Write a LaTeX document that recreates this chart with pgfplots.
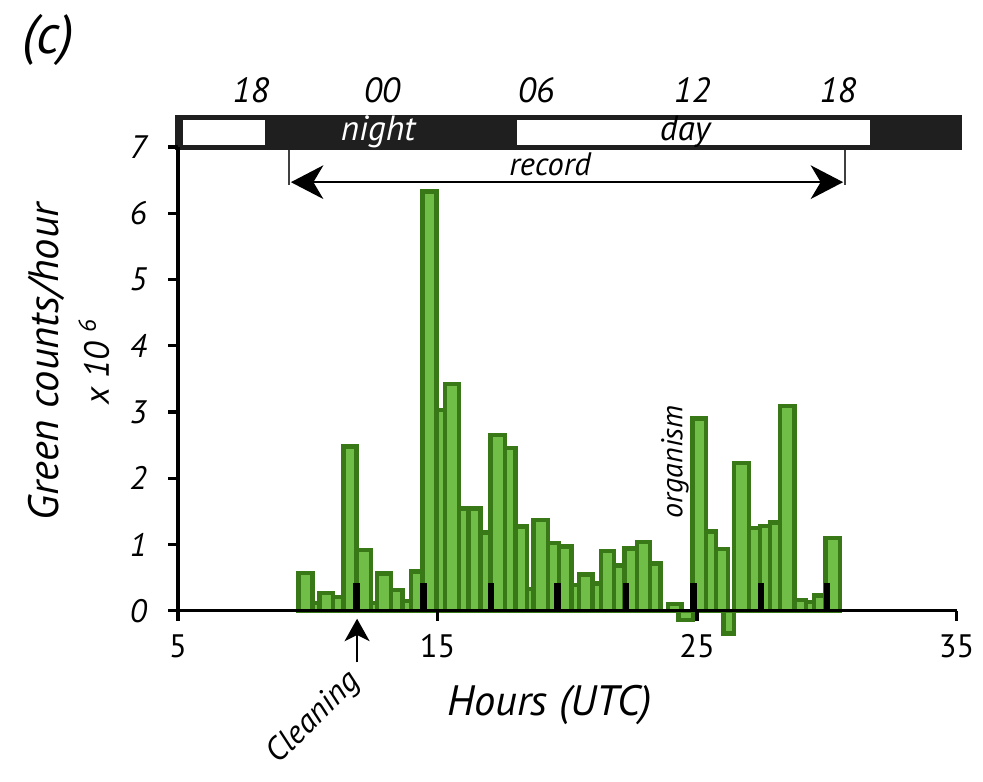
\documentclass[border=0pt]{standalone}
\usepackage{pgfplots}
\pgfplotsset{compat=1.18}
\usepackage{fontspec}
\setmainfont{PT Sans}
\usetikzlibrary{arrows.meta}
\definecolor{barfill}{RGB}{112,190,72}
\definecolor{baredge}{RGB}{56,120,22}
\begin{document}
\begin{tikzpicture}
\begin{axis}[
  scale only axis,
  width=311.6pt, height=185.6pt,
  xmin=5, xmax=35, ymin=0, ymax=7,
  clip=false,
  axis lines=left,
  axis line style={-, line width=1.3pt},
  axis on top,
  xtick={5,15,25,35},
  ytick={0,1,2,3,4,5,6,7},
  tick style={line width=1.3pt, black},
  major tick length=4pt,
  tick align=outside,
  /pgf/number format/assume math mode=true,
  xticklabel style={font=\fontsize{13}{13}\selectfont, yshift=-2pt},
  yticklabel style={font=\fontsize{13}{13}\selectfont\itshape, xshift=-5pt},
  xlabel={\itshape Hours (UTC)},
  xlabel style={font=\fontsize{17}{17}\selectfont, at={(axis description cs:0.477,-0.203)}, anchor=center},
  ylabel={Green counts/hour\\[1pt] \fontsize{14}{14}\selectfont x 10 \textsuperscript{6}},
  ylabel style={font=\fontsize{17}{19}\selectfont\itshape, align=center, at={(axis description cs:-0.140,0.537)}, anchor=center, rotate=0},
]
% main bars (left edges, last point = right edge)
\addplot[ybar interval, fill=barfill, draw=baredge, line width=1.8pt] coordinates {
(9.64,0.57) (10.18,0.12) (10.45,0.27) (10.98,0.21) (11.37,2.48) (11.88,0.92)
(12.43,0.12) (12.66,0.56) (13.20,0.31) (13.66,0.15) (13.97,0.59) (14.43,6.33)
(14.97,3.03) (15.28,3.42) (15.82,1.54) (16.20,1.54) (16.66,1.18) (17.05,2.65)
(17.60,2.46) (18.00,1.27) (18.44,0.33) (18.69,1.37) (19.25,1.02) (19.69,0.97)
(20.17,0.39) (20.45,0.55) (20.98,0.41) (21.30,0.90) (21.81,0.68) (22.20,0.94)
(22.68,1.04) (23.19,0.71) (23.60,0) (23.89,0.10) (24.41,0) (24.82,2.90)
(25.35,1.20) (25.73,0.93) (26.20,0) (26.43,2.23) (27.00,1.25) (27.43,1.28)
(27.81,1.33) (28.20,3.09) (28.75,0.16) (29.20,0.13) (29.51,0.23) (29.96,1.10)
(30.51,0)
};
% negative bars
\addplot[ybar interval, fill=barfill, draw=baredge, line width=1.8pt] coordinates {(24.28,-0.14) (24.84,0)};
\addplot[ybar interval, fill=barfill, draw=baredge, line width=1.8pt] coordinates {(26.02,-0.34) (26.43,0)};
% black markers
\addplot[ycomb, black, line width=2.6pt, no marks] coordinates {
(11.87,0.42) (14.46,0.42) (17.07,0.42) (19.62,0.42) (22.27,0.42) (24.86,0.42) (27.47,0.42) (30.0,0.42)
};
% day/night bar
\fill[black!88] (axis cs:4.9,6.95) rectangle (axis cs:35.2,7.48);
\fill[white] (axis cs:5.19,7.03) rectangle (axis cs:8.35,7.41);
\fill[white] (axis cs:18.06,7.03) rectangle (axis cs:31.67,7.41);
\node[white, font=\fontsize{14}{14}\selectfont\itshape] at (axis cs:12.71,7.23) {night};
\node[black, font=\fontsize{14}{14}\selectfont\itshape] at (axis cs:24.54,7.23) {day};
\node[font=\fontsize{14}{14}\selectfont\itshape] at (axis cs:7.81,7.86) {18};
\node[font=\fontsize{14}{14}\selectfont\itshape] at (axis cs:12.86,7.86) {00};
\node[font=\fontsize{14}{14}\selectfont\itshape] at (axis cs:18.80,7.86) {06};
\node[font=\fontsize{14}{14}\selectfont\itshape] at (axis cs:24.81,7.86) {12};
\node[font=\fontsize{14}{14}\selectfont\itshape] at (axis cs:30.43,7.86) {18};
% record
\draw[line width=0.6pt, black!75] (axis cs:9.28,6.95) -- (axis cs:9.28,6.42);
\draw[line width=0.6pt, black!75] (axis cs:30.7,6.95) -- (axis cs:30.7,6.42);
\draw[line width=0.6pt, {Stealth[length=13pt,width=13.5pt,inset=4pt]}-{Stealth[length=13pt,width=13.5pt,inset=4pt]}] (axis cs:9.35,6.47) -- (axis cs:30.63,6.47);
\node[font=\fontsize{13}{13}\selectfont\itshape] at (axis cs:19.34,6.74) {record};
% annotations
\node[rotate=90, font=\fontsize{12}{12}\selectfont\itshape] at (axis cs:24.15,2.25) {organism};
\draw[line width=1pt, -{Stealth[length=9pt,width=10pt,inset=2.5pt]}] (axis cs:11.9,-0.78) -- (axis cs:11.9,-0.12);
\node[rotate=45, font=\fontsize{13}{13}\selectfont\itshape] at (axis cs:10.25,-1.62) {Cleaning};
\node[font=\fontsize{22}{22}\selectfont\itshape] at (axis cs:0.0,8.62) {(c)};
\path (axis cs:-1.86,-2.17) rectangle (axis cs:36.02,9.22);
\end{axis}
\end{tikzpicture}
\end{document}
